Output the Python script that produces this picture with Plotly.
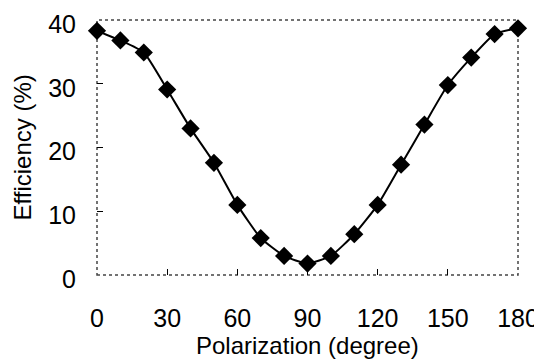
import plotly.graph_objects as go

polarization = [0, 10, 20, 30, 40, 50, 60, 70, 80, 90, 100, 110, 120, 130, 140, 150, 160, 170, 180]
efficiency = [38.3, 36.8, 34.9, 29.1, 23.0, 17.6, 11.0, 5.8, 3.0, 1.8, 3.0, 6.4, 11.0, 17.3, 23.6, 29.8, 34.1, 37.8, 38.7]

x_ticks = [0, 30, 60, 90, 120, 150, 180]
y_ticks = [0, 10, 20, 30, 40]

font_family = "Liberation Sans, Arial, sans-serif"

fig = go.Figure()
fig.add_trace(go.Scatter(
    x=polarization, y=efficiency, mode="lines+markers",
    line=dict(color="black", width=2, shape="spline", smoothing=0.5),
    marker=dict(symbol="diamond", size=14, color="black"),
    cliponaxis=False, showlegend=False,
))

fig.add_shape(type="rect", xref="paper", yref="paper", x0=0, y0=0, x1=1, y1=1,
              line=dict(color="#444", width=1.5, dash="dot"), layer="below")

fig.add_annotation(text="Polarization (degree)", xref="paper", yref="paper",
                   x=0.5, y=0, yshift=-70, showarrow=False,
                   xanchor="center", yanchor="middle", font=dict(size=24))
fig.add_annotation(text="Efficiency (%)", xref="paper", yref="paper",
                   x=0, y=0.5, xshift=-75, showarrow=False, textangle=-90,
                   xanchor="center", yanchor="middle", font=dict(size=24))

fig.update_layout(
    width=534, height=352,
    margin=dict(l=89, r=24, t=12, b=85),
    paper_bgcolor="white", plot_bgcolor="white",
    font=dict(family=font_family, color="black", size=25),
)
fig.update_xaxes(
    range=[0, 180], tickvals=x_ticks, ticktext=[str(v) for v in x_ticks],
    ticks="inside", ticklen=6, tickcolor="black", tickwidth=1,
    showgrid=False, zeroline=False, showline=False, automargin=False,
    tickfont=dict(size=25), ticklabelstandoff=26, ticklabeloverflow="allow",
)
fig.update_yaxes(
    range=[0, 40], tickvals=y_ticks, ticktext=[str(v) for v in y_ticks],
    ticks="inside", ticklen=6, tickcolor="black", tickwidth=1,
    showgrid=False, zeroline=False, showline=False, automargin=False,
    tickfont=dict(size=25), ticklabelstandoff=20, ticklabelshift=4,
    ticklabeloverflow="allow",
)

fig.write_html("out.html")
